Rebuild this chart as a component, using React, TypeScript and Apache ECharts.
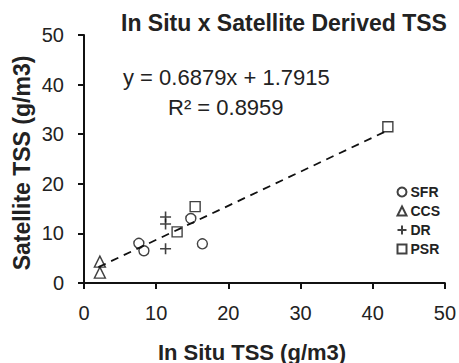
import React, { useEffect, useRef } from "react";
import * as echarts from "echarts";

const xTicks = [0, 10, 20, 30, 40, 50];
const yTicks = [0, 10, 20, 30, 40, 50];

const sfrData: [number, number][] = [
  [7.6, 8.0],
  [8.3, 6.5],
  [14.8, 13.0],
  [16.4, 7.9],
];
const ccsData: [number, number][] = [
  [2.2, 4.3],
  [2.2, 2.1],
];
const drData: [number, number][] = [
  [11.3, 13.3],
  [11.3, 11.9],
  [11.3, 6.9],
];
const psrData: [number, number][] = [
  [12.9, 10.3],
  [15.4, 15.4],
  [42.1, 31.5],
];
const trendX = [2, 42];
const trendY = [3.2, 30.7];

const titleText = "In Situ x Satellite Derived TSS";
const eqText = "y = 0.6879x + 1.7915";
const r2Text = "R\u00B2 = 0.8959";
const xName = "In Situ TSS (g/m3)";
const yName = "Satellite TSS (g/m3)";

const FONT = "'Liberation Sans', Arial, Helvetica, sans-serif";
const PLUS = "path://M5,0L5,10M0,5L10,5";

export default function App() {
  const ref = useRef<HTMLDivElement>(null);
  useEffect(() => {
    if (!ref.current) return;
    const chart = echarts.init(ref.current, undefined, { renderer: "svg" });
    const hollow = {
      color: "rgba(255,255,255,0)",
      borderColor: "#111",
      borderWidth: 1.4,
    };
    const axisCommon = {
      type: "value" as const,
      min: 0,
      max: 50,
      interval: 10,
      splitLine: { show: false },
      axisLine: { show: true, lineStyle: { color: "#111", width: 2 } },
      axisTick: { show: true, inside: false, length: 6, lineStyle: { color: "#111", width: 2 } },
    };
    chart.setOption({
      animation: false,
      backgroundColor: "#fff",
      textStyle: { fontFamily: FONT },
      grid: { left: 84, right: 14, top: 35, bottom: 80 },
      xAxis: {
        ...axisCommon,
        axisLabel: {
          margin: 20,
          fontSize: 20,
          color: "#222",
          fontFamily: FONT,
          formatter: (v: number) => (xTicks.includes(v) ? String(v) : ""),
        },
      },
      yAxis: {
        ...axisCommon,
        axisLabel: {
          margin: 20,
          fontSize: 20,
          color: "#222",
          fontFamily: FONT,
          formatter: (v: number) => (yTicks.includes(v) ? String(v) : ""),
        },
      },
      legend: {
        orient: "vertical",
        left: 395,
        top: 185,
        padding: 0,
        itemWidth: 9,
        itemHeight: 9,
        itemGap: 5,
        textStyle: {
          fontSize: 14,
          lineHeight: 14,
          fontWeight: "bold",
          color: "#222",
          fontFamily: FONT,
          padding: [0, 0, 0, -1],
        },
        data: ["SFR", "CCS", "DR", "PSR"],
      },
      series: [
        {
          type: "line",
          name: "trend",
          data: trendX.map((x, i) => [x, trendY[i]]),
          symbol: "none",
          lineStyle: { color: "#111", width: 1.8, type: [8, 6] },
          z: 1,
        },
        {
          type: "scatter",
          name: "SFR",
          symbol: "circle",
          symbolSize: 10,
          data: sfrData,
          itemStyle: hollow,
          z: 3,
        },
        {
          type: "scatter",
          name: "CCS",
          symbol: "triangle",
          symbolSize: 11,
          data: ccsData,
          itemStyle: hollow,
          z: 3,
        },
        {
          type: "scatter",
          name: "DR",
          symbol: PLUS,
          symbolSize: 11,
          data: drData,
          itemStyle: { color: "none", borderColor: "#111", borderWidth: 1.6 },
          z: 3,
        },
        {
          type: "scatter",
          name: "PSR",
          symbol: "rect",
          symbolSize: 10,
          data: psrData,
          itemStyle: hollow,
          z: 3,
        },
      ],
      graphic: [
        {
          type: "text",
          x: 284,
          y: 23,
          style: {
            text: titleText,
            font: `bold 23px ${FONT}`,
            fill: "#222",
            textAlign: "center",
            textVerticalAlign: "middle",
          },
        },
        {
          type: "text",
          x: 123,
          y: 77,
          style: {
            text: eqText,
            font: `22px ${FONT}`,
            fill: "#222",
            textAlign: "left",
            textVerticalAlign: "middle",
          },
        },
        {
          type: "text",
          x: 168,
          y: 107,
          style: {
            text: r2Text,
            font: `22px ${FONT}`,
            fill: "#222",
            textAlign: "left",
            textVerticalAlign: "middle",
          },
        },
        {
          type: "text",
          x: 252,
          y: 352,
          style: {
            text: xName,
            font: `bold 22px ${FONT}`,
            fill: "#222",
            textAlign: "center",
            textVerticalAlign: "middle",
          },
        },
        {
          type: "text",
          x: 22,
          y: 163,
          rotation: Math.PI / 2,
          style: {
            text: yName,
            font: `bold 23px ${FONT}`,
            fill: "#222",
            textAlign: "center",
            textVerticalAlign: "middle",
          },
        },
      ],
    });
    return () => chart.dispose();
  }, []);
  return (
    <div
      ref={ref}
      style={{ position: "fixed", left: 0, top: 0, width: 459, height: 363 }}
    />
  );
}
